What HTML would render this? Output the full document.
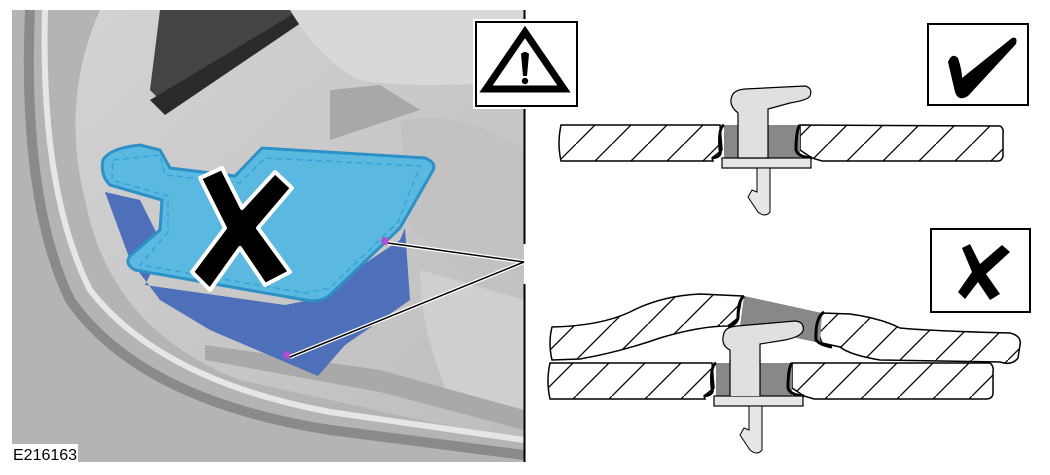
<!DOCTYPE html>
<html><head><meta charset="utf-8"><style>
html,body{margin:0;padding:0;background:#fff;width:1050px;height:475px;overflow:hidden}
</style></head><body>
<svg width="1050" height="475" viewBox="0 0 1050 475" xmlns="http://www.w3.org/2000/svg">
<defs>
<pattern id="h" patternUnits="userSpaceOnUse" width="36" height="36">
<rect width="36" height="36" fill="#fff"/>
<line x1="0" y1="36" x2="36" y2="0" stroke="#000" stroke-width="1.3"/>
</pattern>
<linearGradient id="bg" x1="0" y1="0" x2="1" y2="1">
<stop offset="0" stop-color="#d4d4d4"/><stop offset="1" stop-color="#bdbdbd"/>
</linearGradient>
</defs>
<rect x="12" y="10" width="512" height="452" fill="url(#bg)"/>
<path d="M12 10 L100 10 Q60 100 85 200 Q110 330 240 380 L420 420 L524 440 L524 462 L12 462Z" fill="#b4b4b4"/>
<path d="M30 10 Q22 200 70 300 Q140 400 330 430 L524 455" fill="none" stroke="#8a8a8a" stroke-width="10"/>
<path d="M45 10 Q40 190 90 290 Q160 380 330 412 L524 440" fill="none" stroke="#e6e6e6" stroke-width="6"/>
<path d="M160 10 L300 10 L170 110 L150 90Z" fill="#444"/>
<path d="M150 100 L300 10 L320 10 L165 115Z" fill="#2a2a2a"/>
<path d="M290 10 L524 10 L524 80 Q420 90 360 80 Q320 60 290 10Z" fill="#d8d8d8"/>
<path d="M330 90 L380 85 L420 110 L330 140Z" fill="#a8a8a8"/>
<path d="M400 120 Q470 110 524 150 L524 330 Q470 300 440 250 L410 230Z" fill="#c2c2c2"/>
<path d="M420 270 L524 300 L524 420 L450 400 Q420 330 420 270Z" fill="#cfcfcf"/>
<path d="M205 345 L380 370 L524 410 L524 430 L380 392 L205 360Z" fill="#a9a9a9"/>
<path d="M105 192 L140 200 L160 240 L150 275 L145 285 L285 305 L310 300 L400 240 L405 228 L410 300 L345 345 L318 376 L285 362 L210 330 L160 300 L130 260Z" fill="#4e6fba"/>
<path d="M103 160 Q110 148 140 145 L160 150 L170 168 L235 176 L262 148 L425 158 Q438 163 432 172 L400 228 L330 295 Q320 303 305 300 L135 270 Q124 264 130 256 L160 230 L162 200 L110 185 Q100 175 103 160Z" fill="#5bb8e0" stroke="#2d90c6" stroke-width="3"/>
<path d="M113 160 L160 155 L165 175 L240 183 L265 158 L420 166 L398 222 L330 288 L305 293 L140 265 L168 232 L168 196 L112 180Z" fill="none" stroke="#3aa2d6" stroke-width="1.5" stroke-dasharray="6 4"/>
<path d="M200 178 L222 168 L242 208 L275 172 L292 188 L258 228 L290 272 L265 285 L240 248 L210 290 L192 272 L225 228Z" fill="#000" stroke="#fff" stroke-width="4" stroke-linejoin="round"/>
<circle cx="385" cy="241" r="4" fill="#b04fd4"/>
<circle cx="287" cy="355" r="4" fill="#b04fd4"/>
<line x1="388" y1="243" x2="524" y2="262" stroke="#fff" stroke-width="4"/>
<line x1="290" y1="357" x2="524" y2="262" stroke="#fff" stroke-width="4"/>
<line x1="388" y1="243" x2="524" y2="262" stroke="#000" stroke-width="1.5"/>
<line x1="290" y1="357" x2="524" y2="262" stroke="#000" stroke-width="1.5"/>
<line x1="524.5" y1="10" x2="524.5" y2="244" stroke="#000" stroke-width="2"/>
<line x1="524.5" y1="284" x2="524.5" y2="462" stroke="#000" stroke-width="2"/>
<rect x="12" y="444" width="66" height="18" fill="#fff"/>
<text x="13" y="460" font-family="Liberation Sans, sans-serif" font-size="16" fill="#000">E216163</text>
<!-- warning box -->
<rect x="473" y="19" width="107" height="90" fill="#fff"/>
<rect x="476" y="22" width="101" height="84" fill="#fff" stroke="#000" stroke-width="2"/>
<path d="M525 32 L564 89 L486 89Z" fill="none" stroke="#000" stroke-width="7" stroke-linejoin="miter"/>
<path d="M521 54 Q525 50 529 54 L527 76 L523 76Z" fill="#000"/>
<circle cx="525" cy="81" r="3.2" fill="#000"/>
<!-- check box -->
<rect x="928" y="24" width="100" height="81" fill="#fff" stroke="#000" stroke-width="2"/>
<path d="M948 62 Q952 52 958 58 Q962 70 962 78 L1012 38 Q1018 36 1016 44 L968 96 Q958 102 955 92Z" fill="#000"/>
<!-- X box -->
<rect x="931" y="229" width="99" height="83" fill="#fff" stroke="#000" stroke-width="2"/>
<path d="M962 248 L970 244 L980 264 L1002 245 L1010 252 L986 274 L1000 294 L990 300 L978 282 L965 299 L958 292 L972 272Z" fill="#000"/>
<!-- top assembly -->
<path d="M561 125 L720 125 L722 150 L712 158 L713 161 L561 161 Q557 143 561 125Z" fill="url(#h)" stroke="#000" stroke-width="1.5"/>
<path d="M800 125 L1000 126 Q1004 128 1003 134 L1003 156 Q1002 162 995 161 L822 161 L812 158 L800 150Z" fill="url(#h)" stroke="#000" stroke-width="1.5"/>
<rect x="724" y="125" width="76" height="33" fill="#888"/>
<path d="M724 125 Q718 128 720 150 Q722 157 712 158" fill="none" stroke="#000" stroke-width="3"/>
<path d="M800 125 Q796 130 796 150 Q798 157 812 158" fill="none" stroke="#000" stroke-width="3"/>
<rect x="722" y="158" width="89" height="10" fill="#e6e6e6" stroke="#000" stroke-width="1.2"/>
<path d="M738 158 L738 113 Q728 105 732 96 Q734 90 745 89 L805 86 Q813 88 810 96 Q808 100 790 103 L768 109 L768 158Z" fill="#e0e0e0" stroke="#000" stroke-width="1.2"/>
<path d="M757 168 L770 168 L770 212 Q765 218 758 212 L748 197 L752 190 L757 192Z" fill="#e6e6e6" stroke="#000" stroke-width="1"/>
<!-- bottom assembly -->
<path d="M550 363 L712 363 L714 388 L704 396 L705 399 L550 399 Q546 381 550 363Z" fill="url(#h)" stroke="#000" stroke-width="1.5"/>
<path d="M792 363 L990 363 Q994 366 993 372 L993 394 Q992 399 986 399 L814 399 L804 396 L792 388Z" fill="url(#h)" stroke="#000" stroke-width="1.5"/>
<rect x="716" y="363" width="76" height="33" fill="#888"/>
<path d="M716 363 Q710 366 712 388 Q714 395 704 396" fill="none" stroke="#000" stroke-width="3"/>
<path d="M792 363 Q788 368 788 388 Q790 395 804 396" fill="none" stroke="#000" stroke-width="3"/>
<rect x="714" y="396" width="89" height="10" fill="#e6e6e6" stroke="#000" stroke-width="1.2"/>
<path d="M552 327 Q600 326 630 312 Q660 296 700 294 L742 296 L738 318 L728 326 Q700 326 660 338 Q620 352 580 359 L552 360 Q548 343 552 327Z" fill="url(#h)" stroke="#000" stroke-width="1.5"/>
<path d="M822 313 L850 314 Q880 318 900 328 Q930 331 1010 333 Q1022 336 1020 345 L1018 358 Q1012 366 1000 362 L880 360 Q850 355 840 347 L822 343 Q816 330 822 313Z" fill="url(#h)" stroke="#000" stroke-width="1.5"/>
<path d="M744 296 L822 313 L820 343 L740 326Z" fill="#888"/>
<path d="M744 296 Q738 300 738 318 Q736 325 728 326" fill="none" stroke="#000" stroke-width="3"/>
<path d="M824 312 Q815 318 816 340 Q820 345 832 347" fill="none" stroke="#000" stroke-width="3"/>
<path d="M730 363 L730 350 Q720 345 724 333 Q726 327 737 326 L795 321 Q805 322 803 331 Q800 337 785 340 L760 344 L760 363Z" fill="#e0e0e0" stroke="#000" stroke-width="1.2"/>
<rect x="730" y="362" width="30" height="34" fill="#e0e0e0"/>
<line x1="730" y1="360" x2="730" y2="396" stroke="#000" stroke-width="1.2"/>
<line x1="760" y1="360" x2="760" y2="396" stroke="#000" stroke-width="1.2"/>
<path d="M749 406 L762 406 L762 450 Q757 456 750 450 L740 435 L744 428 L749 430Z" fill="#e6e6e6" stroke="#000" stroke-width="1"/>
</svg>
</body></html>
